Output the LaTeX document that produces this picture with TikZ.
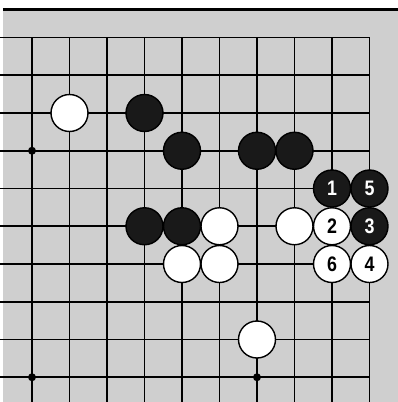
\documentclass[tikz,border=0pt]{standalone}
\usepackage{fontspec}
\newfontfamily\gonum{Liberation Sans}[FakeStretch=0.85]
\definecolor{boardgray}{gray}{0.81}
\definecolor{stoneblack}{gray}{0.1}

\begin{document}
\begin{tikzpicture}[x=37.5pt, y=-37.75pt,
    wstone/.style={circle, draw=black, line width=1.4pt, fill=white,
        minimum size=37pt, inner sep=0pt,
        font=\gonum\bfseries\fontsize{21}{21}\selectfont},
    bstone/.style={wstone, fill=stoneblack, text=white},
    hoshi/.style={circle, fill=black, minimum size=8pt, inner sep=0pt},
    gridline/.style={line width=1.6pt}]
    % Paper, shaded board and the frame line on top
    \useasboundingbox (-0.8533,-0.9934) rectangle (9.76,9.6556);
    \fill[boardgray] (-0.7733,-0.7417) rectangle (9.76,9.6556);
    \draw[line width=2.2pt] (-0.7733,-0.7417) -- (9.76,-0.7417);

    % Grid of the upper right corner
    \draw[gridline, line join=miter] (-0.8533,0) -- (9,0) -- (9,9.6556);
    \foreach \c in {0,...,8}{
        \draw[gridline] (\c,0) -- (\c,9.6556);
    }
    \foreach \r in {1,...,9}{
        \draw[gridline] (-0.8533,\r) -- (9,\r);
    }

    % Star points
    \node[hoshi] (h1) at (0,3) {};
    \node[hoshi] (h2) at (0,9) {};
    \node[hoshi] (h3) at (6,9) {};

    % Stones already on the board
    \foreach \c/\r [count=\i] in {1/2, 5/5, 7/5, 4/6, 5/6, 6/8}{
        \node[wstone] (w\i) at (\c,\r) {};
    }
    \foreach \c/\r [count=\i] in {3/2, 4/3, 6/3, 7/3, 3/5, 4/5}{
        \node[bstone] (b\i) at (\c,\r) {};
    }

    % Numbered moves
    \node[bstone] (m1) at (8,4) {1};
    \node[wstone] (m2) at (8,5) {2};
    \node[bstone] (m3) at (9,5) {3};
    \node[wstone] (m4) at (9,6) {4};
    \node[bstone] (m5) at (9,4) {5};
    \node[wstone] (m6) at (8,6) {6};
\end{tikzpicture}
\end{document}
